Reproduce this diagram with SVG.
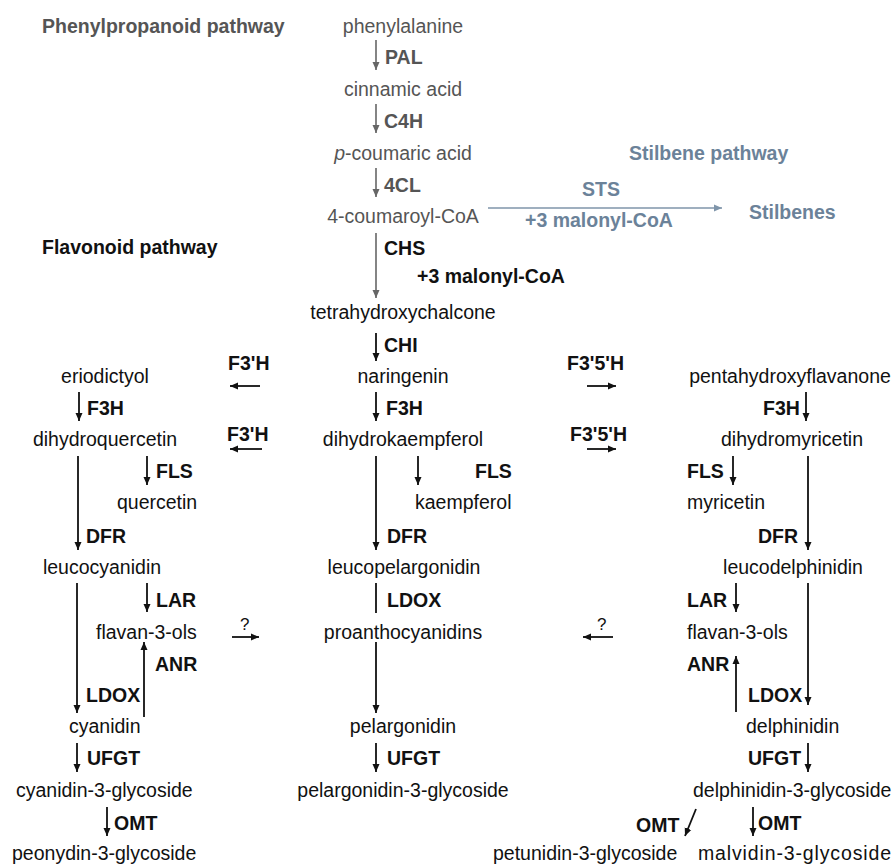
<svg xmlns="http://www.w3.org/2000/svg" width="896" height="866" viewBox="0 0 896 866">
<defs>
<style>
text{font-family:"Liberation Sans",Arial,sans-serif;font-size:19.5px;fill:#111}
.b{font-weight:bold}
.g{fill:#555}
.s{fill:#6b8299}
.q{font-size:17px}
line{stroke:#111;stroke-width:1.8;fill:none}
line.g{stroke:#666;stroke-width:1.6}
line.s{stroke:#7f95aa;stroke-width:1.6}
</style>
<marker id="ah" markerUnits="userSpaceOnUse" markerWidth="10" markerHeight="10" refX="8" refY="4" orient="auto"><path d="M0,0.5 L8,4 L0,7.5 z" fill="#111"/></marker>
<marker id="ahg" markerUnits="userSpaceOnUse" markerWidth="10" markerHeight="10" refX="8" refY="4" orient="auto"><path d="M0,0.5 L8,4 L0,7.5 z" fill="#666"/></marker>
<marker id="ahs" markerUnits="userSpaceOnUse" markerWidth="10" markerHeight="10" refX="8" refY="4" orient="auto"><path d="M0,0.5 L8,4 L0,7.5 z" fill="#7f95aa"/></marker>
</defs>
<rect width="896" height="866" fill="#fff"/>

<g id="titles">
<text class="b g" x="42" y="33">Phenylpropanoid pathway</text>
<text class="b s" x="629" y="160">Stilbene pathway</text>
<text class="b" x="42" y="254">Flavonoid pathway</text>
</g>

<g id="connectors">
<line class="g" x1="376" y1="40" x2="376" y2="70" marker-end="url(#ahg)"/>
<line class="g" x1="376" y1="104" x2="376" y2="133" marker-end="url(#ahg)"/>
<line class="g" x1="376" y1="168" x2="376" y2="197" marker-end="url(#ahg)"/>
<line class="s" x1="488" y1="208" x2="722" y2="208" marker-end="url(#ahs)"/>
<line class="g" x1="376" y1="233" x2="376" y2="298" marker-end="url(#ahg)"/>
<line x1="376" y1="333" x2="376" y2="361" marker-end="url(#ah)"/>
<line x1="260" y1="386" x2="230" y2="386" marker-end="url(#ah)"/>
<line x1="587" y1="386" x2="616" y2="386" marker-end="url(#ah)"/>
<line x1="79" y1="392" x2="79" y2="421" marker-end="url(#ah)"/>
<line x1="376" y1="392" x2="376" y2="421" marker-end="url(#ah)"/>
<line x1="806" y1="392" x2="806" y2="421" marker-end="url(#ah)"/>
<line x1="262" y1="449" x2="230" y2="449" marker-end="url(#ah)"/>
<line x1="587" y1="449" x2="616" y2="449" marker-end="url(#ah)"/>
<line x1="147" y1="456" x2="147" y2="485" marker-end="url(#ah)"/>
<line x1="418" y1="456" x2="418" y2="485" marker-end="url(#ah)"/>
<line x1="733" y1="456" x2="733" y2="485" marker-end="url(#ah)"/>
<line x1="78" y1="456" x2="78" y2="550" marker-end="url(#ah)"/>
<line x1="376" y1="456" x2="376" y2="550" marker-end="url(#ah)"/>
<line x1="808" y1="456" x2="808" y2="550" marker-end="url(#ah)"/>
<line x1="77" y1="583" x2="77" y2="713" marker-end="url(#ah)"/>
<line x1="147" y1="583" x2="147" y2="612" marker-end="url(#ah)"/>
<line x1="376" y1="583" x2="376" y2="613"/>
<line x1="736" y1="583" x2="736" y2="612" marker-end="url(#ah)"/>
<line x1="808" y1="583" x2="808" y2="705" marker-end="url(#ah)"/>
<line x1="232" y1="637" x2="259" y2="637" marker-end="url(#ah)"/>
<line x1="613" y1="637" x2="583" y2="637" marker-end="url(#ah)"/>
<line x1="144" y1="717" x2="144" y2="642" marker-end="url(#ah)"/>
<line x1="376" y1="642" x2="376" y2="713" marker-end="url(#ah)"/>
<line x1="736" y1="712" x2="736" y2="656" marker-end="url(#ah)"/>
<line x1="77" y1="743" x2="77" y2="772" marker-end="url(#ah)"/>
<line x1="376" y1="743" x2="376" y2="772" marker-end="url(#ah)"/>
<line x1="808" y1="743" x2="808" y2="772" marker-end="url(#ah)"/>
<line x1="107" y1="807" x2="107" y2="836" marker-end="url(#ah)"/>
<line x1="696" y1="809" x2="685" y2="836" marker-end="url(#ah)"/>
<line x1="753" y1="807" x2="753" y2="836" marker-end="url(#ah)"/>
</g>

<g id="enzymes">
<text class="b g" x="385" y="64">PAL</text>
<text class="b g" x="384" y="128">C4H</text>
<text class="b g" x="384" y="192">4CL</text>
<text class="b s" x="582" y="196">STS</text>
<text class="b s" x="525" y="227">+3 malonyl-CoA</text>
<text class="b" x="384" y="255">CHS</text>
<text class="b" x="417" y="283">+3 malonyl-CoA</text>
<text class="b" x="384" y="352">CHI</text>
<text class="b" x="228" y="370">F3'H</text>
<text class="b" x="567" y="370">F3'5'H</text>
<text class="b" x="87" y="415">F3H</text>
<text class="b" x="386" y="415">F3H</text>
<text class="b" x="763" y="415">F3H</text>
<text class="b" x="227" y="441">F3'H</text>
<text class="b" x="570" y="441">F3'5'H</text>
<text class="b" x="156" y="478">FLS</text>
<text class="b" x="475" y="478">FLS</text>
<text class="b" x="687" y="478">FLS</text>
<text class="b" x="86" y="543">DFR</text>
<text class="b" x="387" y="543">DFR</text>
<text class="b" x="758" y="543">DFR</text>
<text class="b" x="156" y="607">LAR</text>
<text class="b" x="387" y="607">LDOX</text>
<text class="b" x="687" y="607">LAR</text>
<text class="q" x="240" y="630">?</text>
<text class="q" x="597" y="630">?</text>
<text class="b" x="155" y="671">ANR</text>
<text class="b" x="687" y="671">ANR</text>
<text class="b" x="86" y="702">LDOX</text>
<text class="b" x="748" y="702">LDOX</text>
<text class="b" x="87" y="765">UFGT</text>
<text class="b" x="387" y="765">UFGT</text>
<text class="b" x="748" y="765">UFGT</text>
<text class="b" x="114" y="830">OMT</text>
<text class="b" x="636" y="832">OMT</text>
<text class="b" x="758" y="830">OMT</text>
</g>

<g id="phenylalanine"><text class="g" x="403" y="33" text-anchor="middle">phenylalanine</text></g>
<g id="cinnamic-acid"><text class="g" x="403" y="96" text-anchor="middle">cinnamic acid</text></g>
<g id="p-coumaric-acid"><text class="g" x="403" y="160" text-anchor="middle"><tspan font-style="italic">p</tspan>-coumaric acid</text></g>
<g id="coumaroyl-coa"><text class="g" x="403" y="223" text-anchor="middle">4-coumaroyl-CoA</text></g>
<g id="stilbenes"><text class="b s" x="749" y="219">Stilbenes</text></g>
<g id="tetrahydroxychalcone"><text x="403" y="319" text-anchor="middle">tetrahydroxychalcone</text></g>
<g id="eriodictyol"><text x="105" y="383" text-anchor="middle">eriodictyol</text></g>
<g id="naringenin"><text x="403" y="383" text-anchor="middle">naringenin</text></g>
<g id="pentahydroxyflavanone"><text x="790" y="383" text-anchor="middle">pentahydroxyflavanone</text></g>
<g id="dihydroquercetin"><text x="105" y="446" text-anchor="middle">dihydroquercetin</text></g>
<g id="dihydrokaempferol"><text x="403" y="446" text-anchor="middle">dihydrokaempferol</text></g>
<g id="dihydromyricetin"><text x="792" y="446" text-anchor="middle">dihydromyricetin</text></g>
<g id="quercetin"><text x="117" y="509">quercetin</text></g>
<g id="kaempferol"><text x="415" y="509">kaempferol</text></g>
<g id="myricetin"><text x="687" y="509">myricetin</text></g>
<g id="leucocyanidin"><text x="102" y="574" text-anchor="middle">leucocyanidin</text></g>
<g id="leucopelargonidin"><text x="404" y="574" text-anchor="middle">leucopelargonidin</text></g>
<g id="leucodelphinidin"><text x="793" y="574" text-anchor="middle">leucodelphinidin</text></g>
<g id="flavan-3-ols-left"><text x="96" y="639">flavan-3-ols</text></g>
<g id="proanthocyanidins"><text x="403" y="639" text-anchor="middle">proanthocyanidins</text></g>
<g id="flavan-3-ols-right"><text x="687" y="639">flavan-3-ols</text></g>
<g id="cyanidin"><text x="69" y="733">cyanidin</text></g>
<g id="pelargonidin"><text x="403" y="733" text-anchor="middle">pelargonidin</text></g>
<g id="delphinidin"><text x="746" y="733">delphinidin</text></g>
<g id="cyanidin-3-glycoside"><text x="16" y="797">cyanidin-3-glycoside</text></g>
<g id="pelargonidin-3-glycoside"><text x="403" y="797" text-anchor="middle">pelargonidin-3-glycoside</text></g>
<g id="delphinidin-3-glycoside"><text x="693" y="797">delphinidin-3-glycoside</text></g>
<g id="peonydin-3-glycoside"><text x="12" y="860">peonydin-3-glycoside</text></g>
<g id="petunidin-3-glycoside"><text x="493" y="860">petunidin-3-glycoside</text></g>
<g id="malvidin-3-glycoside"><text x="698" y="860" textLength="193" lengthAdjust="spacing">malvidin-3-glycoside</text></g>
</svg>
